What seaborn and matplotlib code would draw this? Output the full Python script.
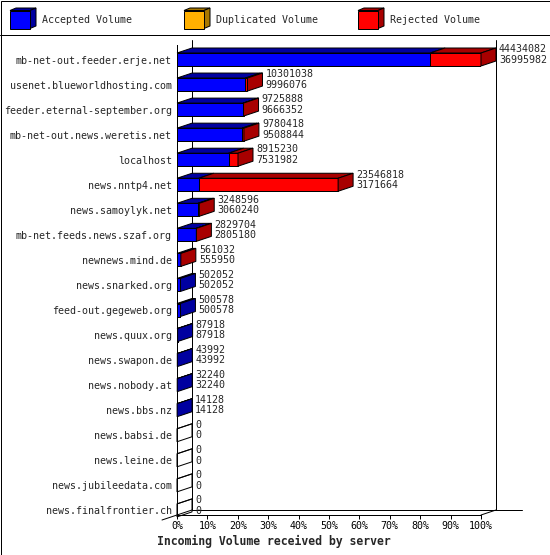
import matplotlib
matplotlib.use("Agg")
import matplotlib.pyplot as plt
from matplotlib.patches import Polygon, Rectangle
import seaborn as sns
import pandas as pd
import numpy as np

# ---------------- data ----------------
hosts = [
    "mb-net-out.feeder.erje.net",
    "usenet.blueworldhosting.com",
    "feeder.eternal-september.org",
    "mb-net-out.news.weretis.net",
    "localhost",
    "news.nntp4.net",
    "news.samoylyk.net",
    "mb-net.feeds.news.szaf.org",
    "newnews.mind.de",
    "news.snarked.org",
    "feed-out.gegeweb.org",
    "news.quux.org",
    "news.swapon.de",
    "news.nobody.at",
    "news.bbs.nz",
    "news.babsi.de",
    "news.leine.de",
    "news.jubileedata.com",
    "news.finalfrontier.ch",
]
total_volume = [44434082, 10301038, 9725888, 9780418, 8915230, 23546818,
                3248596, 2829704, 561032, 502052, 500578, 87918, 43992,
                32240, 14128, 0, 0, 0, 0]
accepted_volume = [36995982, 9996076, 9666352, 9508844, 7531982, 3171664,
                   3060240, 2805180, 555950, 502052, 500578, 87918, 43992,
                   32240, 14128, 0, 0, 0, 0]
duplicated_volume = [0] * len(hosts)
legend_labels = ["Accepted Volume", "Duplicated Volume", "Rejected Volume"]
xtick_values = [0, 10, 20, 30, 40, 50, 60, 70, 80, 90, 100]
xlabel_text = "Incoming Volume received by server"

# ---------------- styles ----------------
BLUE, BLUE_D = "#0000FF", "#0000A0"
ORANGE, ORANGE_D = "#FFB000", "#A87800"
RED, RED_D = "#FF0000", "#A80000"
FONT = "DejaVu Sans Mono"
FS = 7.2
LW = 0.72

sns.set_style("white")
plt.rcParams["font.family"] = [FONT, "DejaVu Sans"]

W, H = 550, 555
fig = plt.figure(figsize=(W / 100, H / 100), dpi=100)

# background / frame axes in pixel coordinates (y down)
bg = fig.add_axes([0, 0, 1, 1])
bg.set_xlim(0, W)
bg.set_ylim(H, 0)
bg.axis("off")
bg.add_patch(Rectangle((0.5, 0.5), W - 1, H - 1, fill=False, ec="black", lw=LW))
bg.plot([0, W], [35, 35], color="black", lw=LW)

# legend swatches
leg_x = [10, 184, 358]
leg_cols = [(BLUE, BLUE_D), (ORANGE, ORANGE_D), (RED, RED_D)]
for x0, (c, cd), lab in zip(leg_x, leg_cols, legend_labels):
    y0, y1 = 10.5, 28.5
    ddx, ddy = 6, -2.5
    bg.add_patch(Polygon([(x0, y0), (x0 + 20, y0), (x0 + 20 + ddx, y0 + ddy),
                          (x0 + ddx, y0 + ddy)], closed=True, fc=cd, ec="black", lw=LW))
    bg.add_patch(Polygon([(x0 + 20, y0), (x0 + 20, y1), (x0 + 20 + ddx, y1 + ddy),
                          (x0 + 20 + ddx, y0 + ddy)], closed=True, fc=cd, ec="black", lw=LW))
    bg.add_patch(Rectangle((x0, y0), 20, y1 - y0, fc=c, ec="black", lw=LW))
    bg.text(x0 + 32, 20, lab, fontsize=FS, va="center", ha="left", family=FONT)

# ---------------- main axes ----------------
left_px, right_px, top_px, bot_px = 177, 481, 45, 515
row0_px, row_step = 59.5, 25.05
ax = fig.add_axes([left_px / W, (H - bot_px) / H,
                   (right_px - left_px) / W, (bot_px - top_px) / H])
ax.patch.set_alpha(0)

vmax = max(total_volume)
df = pd.DataFrame({
    "host": hosts,
    "total_pct": [100.0 * t / vmax for t in total_volume],
    "acc_pct": [100.0 * a / vmax for a in accepted_volume],
})
bar_h = 13 / row_step

sns.barplot(data=df, x="total_pct", y="host", orient="h", color=RED,
            saturation=1, width=bar_h, edgecolor="black", linewidth=LW,
            errorbar=None, ax=ax, zorder=3)
sns.barplot(data=df, x="acc_pct", y="host", orient="h", color=BLUE,
            saturation=1, width=bar_h, edgecolor="black", linewidth=LW,
            errorbar=None, ax=ax, zorder=4)

px_x = (right_px - left_px) / 100.0
dxu = 15 / px_x
dyu = 5 / row_step
y_top = (top_px - row0_px) / row_step
y_bot = (bot_px - row0_px) / row_step
ax.set_xlim(0, 100)
ax.set_ylim(y_bot, y_top)

# walls
wall_top = (40 - row0_px) / row_step
kw = dict(color="black", lw=LW, clip_on=False, zorder=2)
ax.plot([dxu, dxu], [y_bot - dyu, wall_top], **kw)
ax.plot([100 + dxu, 100 + dxu], [y_bot - dyu, wall_top], **kw)
ax.plot([dxu, (522 - left_px) / px_x], [y_bot - dyu, y_bot - dyu], **kw)
ax.plot([100, 100 + dxu], [y_bot, y_bot - dyu], **kw)
ax.plot([-dxu, dxu], [y_bot + dyu, y_bot - dyu], **kw)

# 3D faces
for i, row in df.iterrows():
    a, t = row["acc_pct"], row["total_pct"]
    top = i - bar_h / 2
    bot = i + bar_h / 2
    pk = dict(closed=True, ec="black", lw=LW, clip_on=False, zorder=5)
    ax.add_patch(Polygon([(0, top), (a, top), (a + dxu, top - dyu), (dxu, top - dyu)],
                         fc=BLUE_D, **pk))
    if t > a:
        ax.add_patch(Polygon([(a, top), (t, top), (t + dxu, top - dyu), (a + dxu, top - dyu)],
                             fc=RED_D, **pk))
        side = RED_D
    elif t > 0:
        side = BLUE_D
    else:
        side = "none"
    ax.add_patch(Polygon([(t, top), (t, bot), (t + dxu, bot - dyu), (t + dxu, top - dyu)],
                         fc=side, **pk))
    ax.text(t + dxu + 3 / px_x, i - dyu,
            f"{total_volume[i]}\n{accepted_volume[i]}",
            fontsize=FS, family=FONT, va="center", ha="left",
            linespacing=1.05, clip_on=False, zorder=6)

# axes styling
for s in ["top", "right"]:
    ax.spines[s].set_visible(False)
for s in ["left", "bottom"]:
    ax.spines[s].set_color("black")
    ax.spines[s].set_linewidth(LW)
    ax.spines[s].set_zorder(2)
ax.set_xticks(xtick_values)
ax.set_xticklabels([f"{v}%" for v in xtick_values], fontsize=FS, family=FONT)
ax.tick_params(axis="x", direction="out", length=2.9, width=LW, pad=1.5,
               bottom=True, colors="black")
ax.tick_params(axis="y", length=0, pad=3.6, left=False, labelsize=FS)
for lab in ax.get_yticklabels():
    lab.set_family(FONT)
ax.set_xlabel("")
ax.set_ylabel("")
ax.grid(False)

fig.text(274 / W, (H - 541) / H, xlabel_text, fontsize=8.3, fontweight="bold",
         family=FONT, ha="center", va="center")

fig.savefig("out.png", dpi=100)
